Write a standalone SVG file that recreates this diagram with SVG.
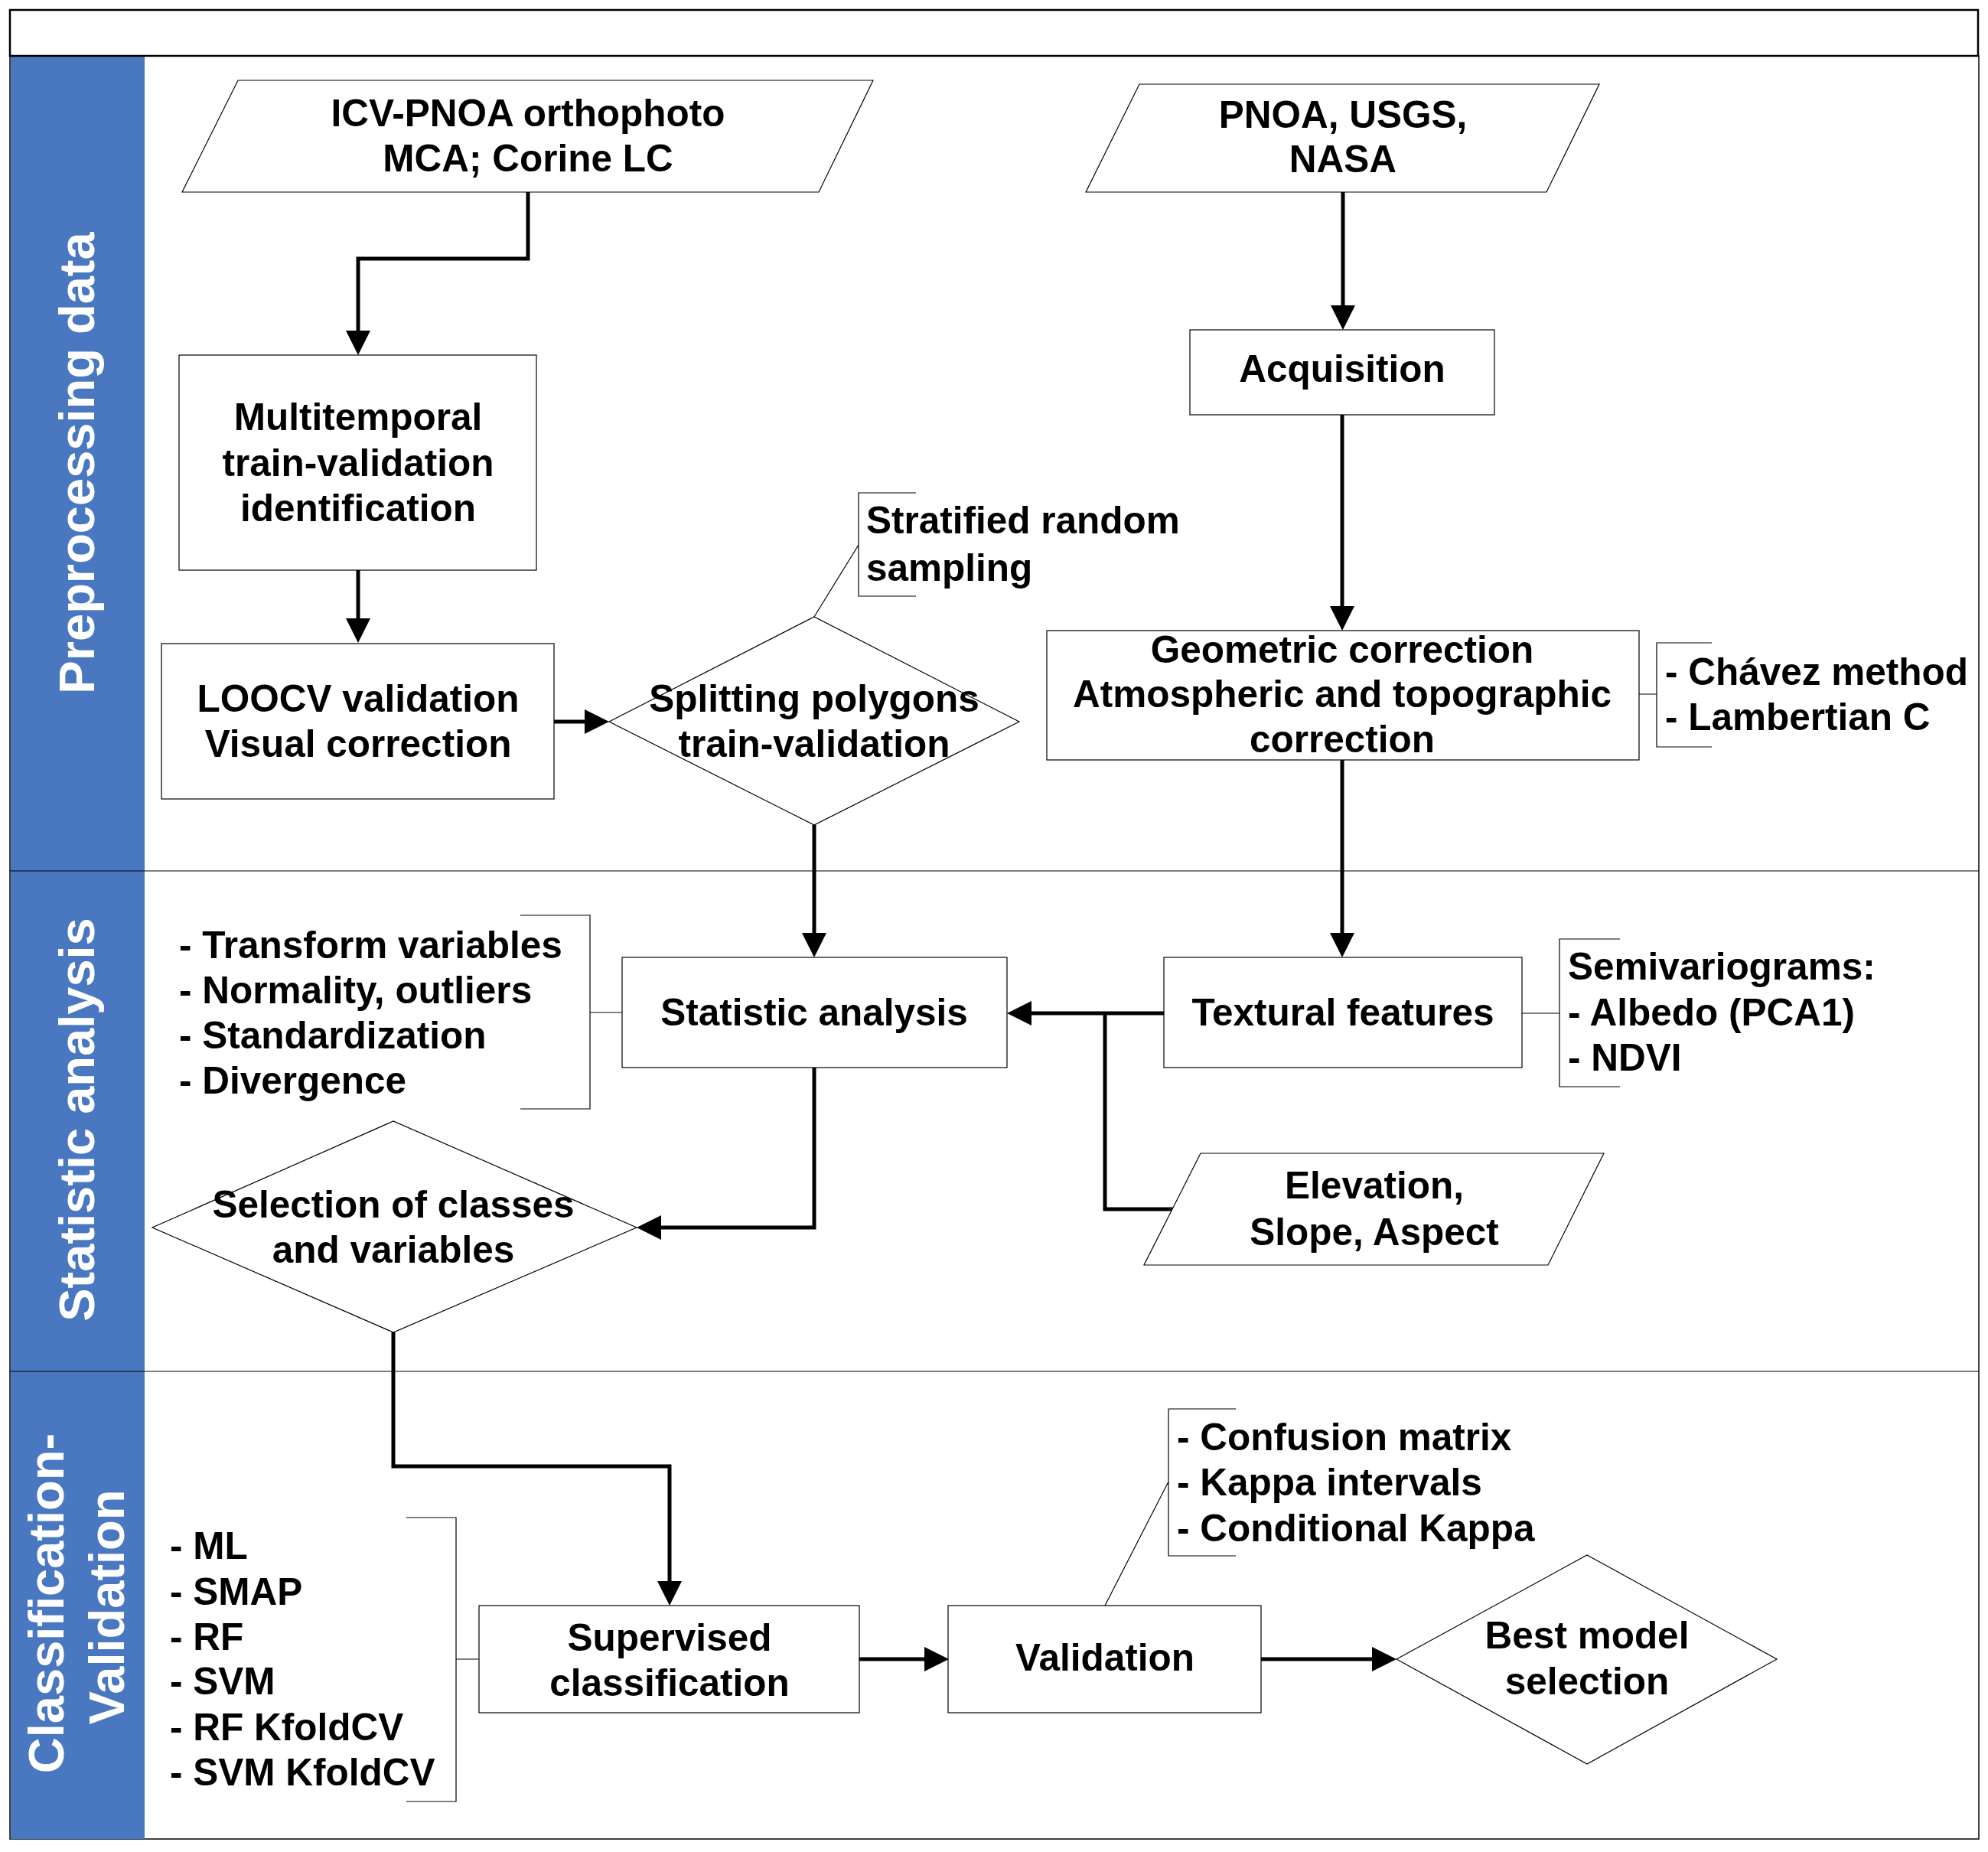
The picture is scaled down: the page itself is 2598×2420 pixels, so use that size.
<svg xmlns="http://www.w3.org/2000/svg" width="2598" height="2420" viewBox="0 0 2598 2420">
<style>
.t{font-family:"Liberation Sans",Arial,sans-serif;font-weight:bold;font-size:49.5px;fill:#000}
.c{text-anchor:middle}
.lane{font-family:"Liberation Sans",Arial,sans-serif;font-weight:bold;font-size:65px;fill:#fff;text-anchor:middle}
.box{fill:#fff;stroke:#000;stroke-width:1.2}
.thin{fill:none;stroke:#000;stroke-width:1.2}
.conn{fill:none;stroke:#000;stroke-width:5}
</style>
<defs>
<marker id="arr" markerUnits="userSpaceOnUse" markerWidth="32" markerHeight="32" refX="16" refY="16" orient="auto">
<path d="M0,0 L32,16 L0,32 z" fill="#000"/>
</marker>
</defs>
<rect width="2598" height="2420" fill="#fff"/>
<g id="pool">
<rect x="13" y="73" width="2573" height="2330" fill="#fff" stroke="#000" stroke-width="1.5"/>
<rect x="14" y="73" width="175" height="2330" fill="#4A78C0"/>
<rect x="13" y="13" width="2572" height="60" fill="#fff" stroke="#000" stroke-width="2.5"/>
<line x1="13" y1="1138" x2="2586" y2="1138" stroke="#000" stroke-width="1.2"/>
<line x1="13" y1="1792" x2="2586" y2="1792" stroke="#000" stroke-width="1.2"/>
<text class="lane" transform="translate(123,605) rotate(-90)">Preprocessing data</text>
<text class="lane" transform="translate(123,1463) rotate(-90)">Statistic analysis</text>
<text class="lane" transform="translate(83,2095) rotate(-90)">Classification-</text>
<text class="lane" transform="translate(162,2100) rotate(-90)">Validation</text>
</g>
<g id="connectors">
<path class="conn" d="M690,251 V338 H468 V448" marker-end="url(#arr)"/>
<path class="conn" d="M468,745 V824" marker-end="url(#arr)"/>
<path class="conn" d="M724,943 H780" marker-end="url(#arr)"/>
<path class="conn" d="M1755,251 V415" marker-end="url(#arr)"/>
<path class="conn" d="M1754,542 V808" marker-end="url(#arr)"/>
<path class="conn" d="M1754,993 V1235" marker-end="url(#arr)"/>
<path class="conn" d="M1064,1078 V1235" marker-end="url(#arr)"/>
<path class="conn" d="M1521,1324 H1332" marker-end="url(#arr)"/>
<path class="conn" d="M1535,1580 H1444 V1324"/>
<path class="conn" d="M1064,1395 V1604 H848" marker-end="url(#arr)"/>
<path class="conn" d="M514,1741 V1916 H875 V2082" marker-end="url(#arr)"/>
<path class="conn" d="M1123,2168 H1224" marker-end="url(#arr)"/>
<path class="conn" d="M1648,2168 H1809" marker-end="url(#arr)"/>
<path class="thin" d="M1197,644 H1122 V779 H1197 M1122,712 L1064,806"/>
<path class="thin" d="M2237,840 H2165 V976 H2237 M2142,907 H2165"/>
<path class="thin" d="M680,1196 H771 V1449 H680 M771,1323 H813"/>
<path class="thin" d="M2117,1227 H2038 V1420 H2117 M1989,1324 H2038"/>
<path class="thin" d="M531,1983 H596 V2354 H531 M596,2168 H626"/>
<path class="thin" d="M1615,1841 H1527 V2033 H1615 M1527,1936 L1444,2098"/>
</g>
<g id="icv">
<polygon class="box" points="311,105 1141,105 1070,251 238,251"/>
<text class="t c" x="690" y="165">ICV-PNOA orthophoto</text>
<text class="t c" x="690" y="224">MCA; Corine LC</text>
</g>
<g id="pnoa">
<polygon class="box" points="1489,110 2090,110 2021,251 1419,251"/>
<text class="t c" x="1755" y="167">PNOA, USGS,</text>
<text class="t c" x="1755" y="225">NASA</text>
</g>
<g id="multitemporal">
<rect class="box" x="234" y="464" width="467" height="281"/>
<text class="t c" x="468" y="562">Multitemporal</text>
<text class="t c" x="468" y="622">train-validation</text>
<text class="t c" x="468" y="681">identification</text>
</g>
<g id="loocv">
<rect class="box" x="211" y="841" width="513" height="203"/>
<text class="t c" x="468" y="930">LOOCV validation</text>
<text class="t c" x="468" y="989">Visual correction</text>
</g>
<g id="splitting">
<polygon class="box" points="796,943 1064,806 1332,943 1064,1078"/>
<text class="t c" x="1064" y="930">Splitting polygons</text>
<text class="t c" x="1064" y="989">train-validation</text>
</g>
<g id="stratified">
<text class="t" x="1132" y="697">Stratified random</text>
<text class="t" x="1132" y="759">sampling</text>
</g>
<g id="acquisition">
<rect class="box" x="1555" y="431" width="398" height="111"/>
<text class="t c" x="1754" y="499">Acquisition</text>
</g>
<g id="geometric">
<rect class="box" x="1368" y="824" width="774" height="169"/>
<text class="t c" x="1754" y="866">Geometric correction</text>
<text class="t c" x="1754" y="924">Atmospheric and topographic</text>
<text class="t c" x="1754" y="983">correction</text>
</g>
<g id="chavez">
<text class="t" x="2176" y="895">- Chávez method</text>
<text class="t" x="2176" y="954">- Lambertian C</text>
</g>
<g id="statistic">
<rect class="box" x="813" y="1251" width="503" height="144"/>
<text class="t c" x="1064" y="1340">Statistic analysis</text>
</g>
<g id="statlist">
<text class="t" x="234" y="1252">- Transform variables</text>
<text class="t" x="234" y="1311">- Normality, outliers</text>
<text class="t" x="234" y="1370">- Standardization</text>
<text class="t" x="234" y="1429">- Divergence</text>
</g>
<g id="textural">
<rect class="box" x="1521" y="1251" width="468" height="144"/>
<text class="t c" x="1755" y="1340">Textural features</text>
</g>
<g id="semivariograms">
<text class="t" x="2049" y="1280">Semivariograms:</text>
<text class="t" x="2049" y="1340">- Albedo (PCA1)</text>
<text class="t" x="2049" y="1399">- NDVI</text>
</g>
<g id="elevation">
<polygon class="box" points="1569,1507 2096,1507 2023,1653 1495,1653"/>
<text class="t c" x="1796" y="1566">Elevation,</text>
<text class="t c" x="1796" y="1627">Slope, Aspect</text>
</g>
<g id="selection">
<polygon class="box" points="199,1604 514,1465 832,1604 514,1741"/>
<text class="t c" x="514" y="1591">Selection of classes</text>
<text class="t c" x="514" y="1650">and variables</text>
</g>
<g id="supervised">
<rect class="box" x="626" y="2098" width="497" height="140"/>
<text class="t c" x="875" y="2157">Supervised</text>
<text class="t c" x="875" y="2216">classification</text>
</g>
<g id="methods">
<text class="t" x="222" y="2037">- ML</text>
<text class="t" x="222" y="2097">- SMAP</text>
<text class="t" x="222" y="2156">- RF</text>
<text class="t" x="222" y="2214">- SVM</text>
<text class="t" x="222" y="2274">- RF KfoldCV</text>
<text class="t" x="222" y="2333">- SVM KfoldCV</text>
</g>
<g id="validation">
<rect class="box" x="1239" y="2098" width="409" height="140"/>
<text class="t c" x="1444" y="2183">Validation</text>
</g>
<g id="metrics">
<text class="t" x="1538" y="1895">- Confusion matrix</text>
<text class="t" x="1538" y="1954">- Kappa intervals</text>
<text class="t" x="1538" y="2014">- Conditional Kappa</text>
</g>
<g id="best">
<polygon class="box" points="1825,2168 2074,2032 2322,2168 2074,2305"/>
<text class="t c" x="2074" y="2154">Best model</text>
<text class="t c" x="2074" y="2214">selection</text>
</g>
</svg>
